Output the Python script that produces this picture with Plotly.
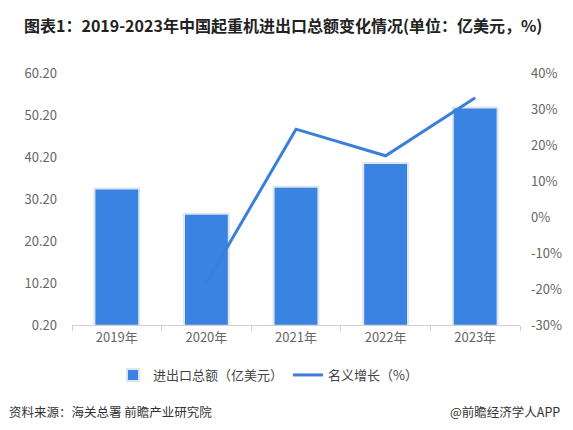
import plotly.graph_objects as go

years = ["2019年", "2020年", "2021年", "2022年", "2023年"]
total_trade = [32.7, 26.7, 33.1, 38.8, 52.0]          # 亿美元
growth_pct = [None, -18.3, 24.4, 17.0, 33.1]           # %
left_ticks = [0.2, 10.2, 20.2, 30.2, 40.2, 50.2, 60.2]
left_labels = ["0.20", "10.20", "20.20", "30.20", "40.20", "50.20", "60.20"]
right_ticks = [-30, -20, -10, 0, 10, 20, 30, 40]
right_labels = ["-30%", "-20%", "-10%", "0%", "10%", "20%", "30%", "40%"]

FONT = "Noto Sans CJK SC"
BAR_C = "#3a83e3"
LINE_C = "#3b7fd9"
TICK_C = "#666666"

# page body has an 8px margin; work in figure coordinates = screen - 8
OFF = 8
W, H = 573 - OFF, 430 - 2 * OFF
l, t = 72 - OFF, 73 - OFF
r = W - (520 - OFF)
b = H - (325 - OFF)
pw, ph = W - l - r, H - t - b


def px_x(x):
    return (x - OFF - l) / pw


def px_y(y):
    return (H - b - (y - OFF)) / ph


fig = go.Figure()
fig.add_trace(go.Bar(
    x=years, y=total_trade, name="进出口总额（亿美元）",
    marker=dict(color=BAR_C, line=dict(color="#dde5ee", width=2)),
    width=0.5, yaxis="y",
))
fig.add_trace(go.Scatter(
    x=years, y=growth_pct, name="名义增长（%）", mode="lines",
    line=dict(color=LINE_C, width=3), yaxis="y2",
))

fig.update_layout(
    width=W, height=H,
    margin=dict(l=l, r=r, t=t, b=b),
    paper_bgcolor="white", plot_bgcolor="white",
    font=dict(family=FONT, color=TICK_C, size=13),
    showlegend=True,
    legend=dict(
        orientation="h", xref="paper", yref="paper",
        x=px_x(268), xanchor="center", y=px_y(375), yanchor="middle",
        font=dict(size=13, color="#444444"), itemwidth=30,
        traceorder="normal", bgcolor="rgba(0,0,0,0)",
    ),
    xaxis=dict(
        type="category", showgrid=False, showline=True, linecolor="#d0d0d0",
        linewidth=1, ticks="outside", tickson="boundaries", ticklen=5,
        tickcolor="#d0d0d0", tickfont=dict(size=13, color=TICK_C),
    ),
    yaxis=dict(
        range=[0.2, 60.2], tickvals=left_ticks, ticktext=left_labels,
        showgrid=False, zeroline=False, showline=False, ticks="",
        ticklabelstandoff=14, tickfont=dict(size=13, color=TICK_C),
    ),
    yaxis2=dict(
        overlaying="y", side="right", range=[-30, 40], tickvals=right_ticks,
        ticktext=right_labels, showgrid=False, zeroline=False, showline=False,
        ticks="", ticklabelstandoff=10, tickfont=dict(size=13, color=TICK_C),
    ),
    annotations=[
        dict(text="<b>图表1：2019-2023年中国起重机进出口总额变化情况(单位：亿美元，%)</b>",
             xref="paper", yref="paper", x=px_x(22), y=px_y(25),
             xanchor="left", yanchor="middle", showarrow=False,
             font=dict(size=16, color="#222222", family=FONT)),
        dict(text="资料来源：海关总署 前瞻产业研究院",
             xref="paper", yref="paper", x=px_x(7), y=px_y(411),
             xanchor="left", yanchor="middle", showarrow=False,
             font=dict(size=12.5, color="#333333", family=FONT)),
        dict(text="@前瞻经济学人APP",
             xref="paper", yref="paper", x=px_x(562), y=px_y(411),
             xanchor="right", yanchor="middle", showarrow=False,
             font=dict(size=12.5, color="#333333", family=FONT)),
    ],
)

fig.write_html("out.html")
